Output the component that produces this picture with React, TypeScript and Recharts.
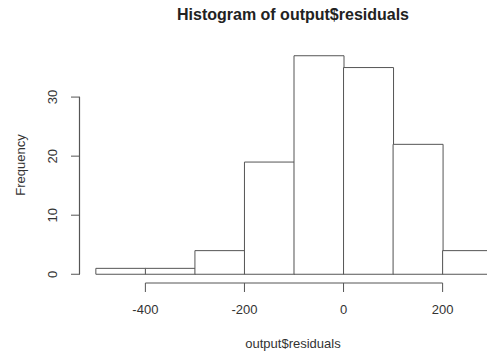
import { BarChart, Bar, XAxis, YAxis } from 'recharts'

const binStarts = [-500, -400, -300, -200, -100, 0, 100, 200]
const binWidth = 100
const counts = [1, 1, 4, 19, 37, 35, 22, 4]
const xTicks = [-400, -200, 0, 200]
const yTicks = [0, 10, 20, 30]

const title = 'Histogram of output$residuals'
const xLabel = 'output$residuals'
const yLabel = 'Frequency'

// R pads both axis ranges by 4%
const xLo = binStarts[0]
const xHi = binStarts[binStarts.length - 1] + binWidth
const yHi = Math.max(...counts)
const xDomain = [xLo - 0.04 * (xHi - xLo), xHi + 0.04 * (xHi - xLo)]
const yDomain = [-0.04 * yHi, yHi * 1.04]

const data = binStarts.map((s, i) => ({ bin: `${s}`, mid: s + binWidth / 2, count: counts[i] }))

const ink = '#555'
const text = '#333'
const font = 'Arial, "Liberation Sans", Helvetica, sans-serif'

const W = 508
const H = 354
const left = 80
const top = 47
const bottom = 71
const plotW = W - left
const plotH = H - top - bottom
const pxPerUnit = plotW / (xDomain[1] - xDomain[0])
// category padding so bins line up with the numeric axis
const padPx = (xLo - xDomain[0]) * pxPerUnit
// same mapping as the chart, for the short R-style axis lines
const sx = (v: number) => left + (v - xDomain[0]) * pxPerUnit
const sy = (v: number) => top + (yDomain[1] - v) * plotH / (yDomain[1] - yDomain[0])

const XTick = (p: any) => (
  <text x={p.x} y={p.y} dy={22} textAnchor="middle" fontSize={13} fill={text} fontFamily={font}>
    {p.payload.value}
  </text>
)

const YTick = (p: any) => {
  const x = p.x - 12
  return (
    <text x={x} y={p.y} transform={`rotate(-90 ${x} ${p.y})`} textAnchor="middle" fontSize={13} fill={text} fontFamily={font}>
      {p.payload.value}
    </text>
  )
}

export default function App() {
  const ax = Math.round(sx(xDomain[0])) - 0.5
  const y0 = sy(yTicks[0])
  const y1 = sy(yTicks[yTicks.length - 1])
  return (
    <div style={{ position: 'absolute', left: 0, top: 0, width: 487, height: 354, overflow: 'hidden', background: '#fff' }}>
      <BarChart width={W} height={H} data={data} margin={{ top, right: 0, bottom: 0, left: 0 }} barCategoryGap={0}>
        <XAxis
          xAxisId="num" dataKey="mid" type="number" domain={xDomain} allowDataOverflow
          ticks={xTicks} interval={0} height={bottom} axisLine={false}
          tickLine={{ stroke: ink }} tickSize={9} tickMargin={0} tick={XTick}
        />
        <XAxis xAxisId="bins" dataKey="bin" type="category" hide height={0} padding={{ left: padPx, right: padPx }} />
        <YAxis
          type="number" domain={yDomain} allowDataOverflow ticks={yTicks} interval={0}
          width={left} axisLine={false} tickLine={{ stroke: ink }} tickSize={9} tick={YTick}
        />
        <Bar xAxisId="bins" dataKey="count" fill="#fff" stroke={ink} strokeWidth={1} isAnimationActive={false} />
      </BarChart>
      <svg width={487} height={354} style={{ position: 'absolute', left: 0, top: 0, pointerEvents: 'none' }}>
        <path d={`M${sx(xTicks[0])},${sy(yDomain[0])}H${sx(xTicks[xTicks.length - 1])}`} stroke={ink} fill="none" />
        <path d={`M${ax},${y0}V${y1}`} stroke={ink} strokeWidth={1.2} fill="none" />
        <text x={293} y={20} textAnchor="middle" fontSize={16} fontWeight="bold" fill="#222" fontFamily={font}>{title}</text>
        <text x={293} y={347.5} textAnchor="middle" fontSize={13} fill={text} fontFamily={font}>{xLabel}</text>
        <text x={24.5} y={165} transform="rotate(-90 24.5 165)" textAnchor="middle" fontSize={13} fill={text} fontFamily={font}>{yLabel}</text>
      </svg>
    </div>
  )
}
